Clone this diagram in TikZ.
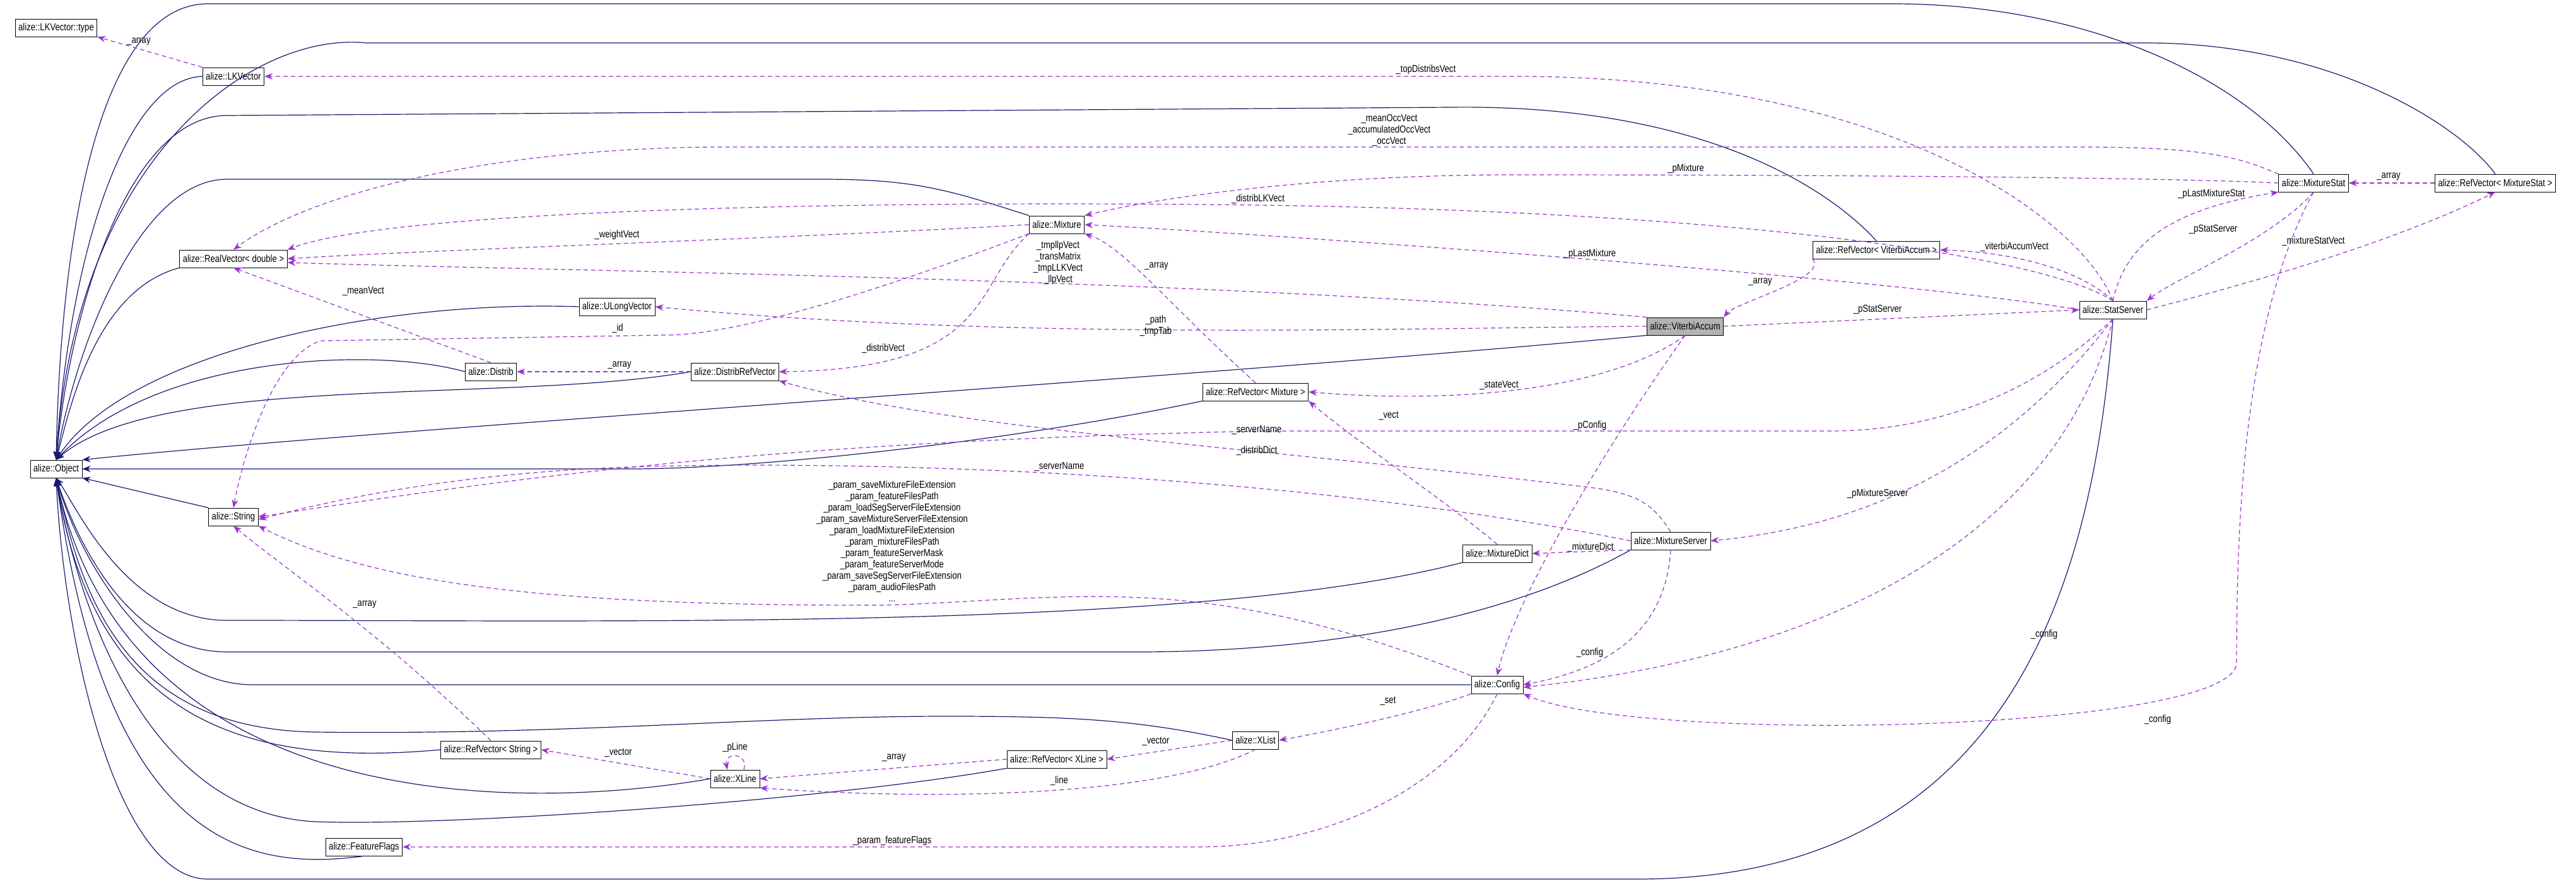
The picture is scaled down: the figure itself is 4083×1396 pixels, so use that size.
\documentclass[tikz,border=0pt]{standalone}
\usepackage{fontspec}
\setmainfont{Liberation Sans}[FakeStretch=0.82]
\usetikzlibrary{arrows.meta}
\definecolor{inhcol}{HTML}{191970}
\definecolor{usecol}{HTML}{9A32CD}
\tikzset{
  cls/.style={draw,thick,fill=white,rectangle,inner xsep=5pt,minimum height=28pt,font=\fontsize{16}{18}\selectfont},
  lbl/.style={font=\fontsize{16}{18}\selectfont,align=center,inner sep=1pt},
  inh/.style={inhcol,line width=1.2pt,-{Stealth[length=13pt,width=10pt]}},
  use/.style={usecol,line width=1.2pt,dashed,dash pattern=on 7pt off 5pt,-{Stealth[length=13pt,width=10pt]}},
}
\begin{document}
\begin{tikzpicture}[x=1pt,y=-1pt]
\useasboundingbox (0,0) rectangle (4083,1396);
% classes
\node[cls] (type) at (89,44) {alize::LKVector::type};
\node[cls] (lkv) at (370,121) {alize::LKVector};
\node[cls] (rv) at (370,410) {alize::RealVector< double >};
\node[cls] (ulv) at (978,486) {alize::ULongVector};
\node[cls] (dist) at (778,589) {alize::Distrib};
\node[cls] (drv) at (1165,589) {alize::DistribRefVector};
\node[cls] (obj) at (89,743) {alize::Object};
\node[cls] (str) at (370,819) {alize::String};
\node[cls] (rvstr) at (778,1188) {alize::RefVector< String >};
\node[cls] (xline) at (1165,1234) {alize::XLine};
\node[cls] (ff) at (577,1342) {alize::FeatureFlags};
\node[cls] (mix) at (1675,356) {alize::Mixture};
\node[cls,fill=black!30] (va) at (2671,517) {alize::ViterbiAccum};
\node[cls] (rvmix) at (1990,621) {alize::RefVector< Mixture >};
\node[cls] (mixstat) at (3667,290) {alize::MixtureStat};
\node[cls] (rvms) at (3955,290) {alize::RefVector< MixtureStat >};
\node[cls] (rvva) at (2974,396) {alize::RefVector< ViterbiAccum >};
\node[cls] (statsrv) at (3349,491) {alize::StatServer};
\node[cls] (mdict) at (2373,877) {alize::MixtureDict};
\node[cls] (msrv) at (2648,857) {alize::MixtureServer};
\node[cls] (cfg) at (2373,1085) {alize::Config};
\node[cls] (xlist) at (1990,1173) {alize::XList};
\node[cls] (rvxline) at (1675,1203) {alize::RefVector< XLine >};

% inheritance
\draw[inh] (statsrv.south) .. controls (3320,900) and (3200,1390) .. (2600,1393) -- (330,1393) .. controls (180,1393) and (100,1000) .. (obj.south);
\draw[inh] (mixstat.north) .. controls (3560,120) and (3300,6) .. (3000,6) -- (330,6) .. controls (150,6) and (95,400) .. (obj.north);
\draw[inh] (rvms.north) .. controls (3900,200) and (3700,68) .. (3400,68) -- (580,68) .. controls (400,50) and (120,250) .. (obj.north);
\draw[inh] (rvva.north) .. controls (2900,300) and (2700,165) .. (2300,170) -- (360,183) .. controls (200,183) and (110,500) .. (obj.north);
\draw[inh] (mix.north west) .. controls (1500,300) and (1450,284) .. (1300,284) -- (360,284) .. controls (220,284) and (120,550) .. (obj.north);
\draw[inh] (lkv.west) .. controls (200,125) and (110,400) .. (obj.north);
\draw[inh] (rv.south west) .. controls (150,460) and (110,650) .. (obj.north);
\draw[inh] (ulv.west) .. controls (600,475) and (200,560) .. (obj.north);
\draw[inh] (dist.west) .. controls (600,550) and (250,560) .. (obj.north);
\draw[inh] (drv.west) .. controls (800,640) and (250,590) .. (obj.north);
\draw[inh] (va.south west) .. controls (2000,590) and (600,680) .. (obj.north east);
\draw[inh] (rvmix.south west) .. controls (1600,700) and (1200,743) .. (1000,743) -- (obj.east);
\draw[inh] (str.north west) -- (obj.south east);
\draw[inh] (mdict.south west) .. controls (1900,1000) and (1000,983) .. (360,983) .. controls (200,983) and (120,800) .. (obj.south);
\draw[inh] (msrv.south west) .. controls (2300,1030) and (1900,1033) .. (1800,1033) -- (360,1033) .. controls (200,1033) and (120,850) .. (obj.south);
\draw[inh] (cfg.west) -- (400,1085) .. controls (250,1085) and (130,900) .. (obj.south);
\draw[inh] (xlist.west) .. controls (1800,1140) and (1700,1135) .. (1500,1135) .. controls (1200,1135) and (900,1165) .. (500,1160) .. controls (200,1155) and (130,950) .. (obj.south);
\draw[inh] (rvstr.west) .. controls (400,1215) and (150,1150) .. (obj.south);
\draw[inh] (xline.west) .. controls (800,1290) and (200,1280) .. (obj.south);
\draw[inh] (rvxline.south west) .. controls (1300,1270) and (700,1310) .. (500,1302) .. controls (250,1290) and (130,1000) .. (obj.south);
\draw[inh] (ff.south) .. controls (400,1380) and (170,1350) .. (obj.south);

% usage
\draw[use] (lkv.north west) -- (type.south east);
\draw[use] (statsrv.north) .. controls (3300,350) and (3000,121) .. (2400,121) -- (lkv.east);
\draw[use] (mixstat.north west) .. controls (3550,250) and (3500,233) .. (3300,233) -- (1150,233) .. controls (800,233) and (500,300) .. (rv.north);
\draw[use] (mixstat.west) .. controls (3400,280) and (2800,277) .. (2400,277) .. controls (2100,277) and (1850,310) .. (mix.north east);
\draw[use] (statsrv.north) .. controls (3230,400) and (2700,330) .. (1900,324) .. controls (1200,318) and (600,340) .. (rv.north east);
\draw[use] (mix.west) .. controls (1200,380) and (700,395) .. (rv.east);
\draw[use] (va.north west) .. controls (1900,440) and (900,430) .. ([yshift=-6pt]rv.east);
\draw[use] (statsrv.west) .. controls (3000,440) and (2000,370) .. (mix.east);
\draw[use] (rvmix.north) .. controls (1850,480) and (1780,390) .. (mix.south east);
\draw[use] (mix.south west) .. controls (1500,420) and (1200,531) .. (1054,531) -- (509,540) .. controls (440,560) and (390,700) .. (str.north);
\draw[use] (dist.north) -- (rv.south);
\draw[use] (drv.west) -- (dist.east);
\draw[use] (mix.south west) .. controls (1540,450) and (1580,585) .. (drv.east);
\draw[use] (va.west) .. controls (2200,520) and (1600,540) .. (ulv.east);
\draw[use] (rvva.south west) .. controls (2900,440) and (2750,480) .. (va.north east);
\draw[use] (statsrv.north) .. controls (3300,430) and (3200,400) .. (rvva.east);
\draw[use] (va.east) -- (statsrv.west);
\draw[use] (statsrv.north) .. controls (3370,380) and (3450,330) .. (mixstat.south west);
\draw[use] (mixstat.south) .. controls (3600,380) and (3450,440) .. (statsrv.north east);
\draw[use] (statsrv.east) .. controls (3600,440) and (3800,380) .. (rvms.south);
\draw[use] (rvms.west) -- (mixstat.east);
\draw[use] (va.south) .. controls (2550,620) and (2300,640) .. (rvmix.east);
\draw[use] (mdict.north) .. controls (2300,800) and (2150,700) .. (rvmix.south east);
\draw[use] (va.south) .. controls (2550,700) and (2400,950) .. (cfg.north);
\draw[use] (statsrv.south) .. controls (3250,600) and (3100,683) .. (2900,683) -- (2000,683) .. controls (1200,700) and (800,760) .. (str.east);
\draw[use] (msrv.north) .. controls (2620,800) and (2600,780) .. (2500,770) .. controls (2000,710) and (1500,680) .. (drv.south east);
\draw[use] (msrv.west) .. controls (2000,740) and (1300,730) .. (1000,740) .. controls (700,750) and (500,800) .. ([yshift=-4pt]str.east);
\draw[use] (cfg.north west) .. controls (1900,900) and (1700,950) .. (1400,959) .. controls (900,960) and (600,930) .. (str.south east);
\draw[use] (msrv.south west) -- (mdict.east);
\draw[use] (msrv.south) .. controls (2640,1000) and (2550,1060) .. (cfg.east);
\draw[use] (statsrv.south) .. controls (3200,700) and (3000,830) .. (msrv.east);
\draw[use] (statsrv.south) .. controls (3250,900) and (2800,1050) .. ([yshift=-4pt]cfg.east);
\draw[use] (mixstat.south) .. controls (3560,500) and (3545,800) .. (3545,1050) .. controls (3545,1160) and (2600,1180) .. (cfg.south east);
\draw[use] (cfg.south west) .. controls (2250,1130) and (2100,1160) .. (xlist.east);
\draw[use] (xlist.west) -- (rvxline.east);
\draw[use] (rvxline.west) -- (xline.east);
\draw[use] (xlist.south) .. controls (1850,1260) and (1500,1270) .. (xline.south east);
\draw[use] ([xshift=14pt]xline.north) .. controls ([xshift=22pt,yshift=28pt]xline.north) and ([xshift=-18pt,yshift=28pt]xline.north) .. ([xshift=-12pt]xline.north);
\draw[use] (xline.west) -- (rvstr.east);
\draw[use] (rvstr.north) .. controls (600,1000) and (450,900) .. (str.south);
\draw[use] (cfg.south) .. controls (2300,1250) and (2100,1342) .. (1900,1342) -- (ff.east);

% labels
\node[lbl] (la) at (220,66) {\_array};
\node[lbl] (lb) at (2260,110) {\_topDistribsVect};
\node[lbl] (lc) at (2202,207) {\_meanOccVect\\\_accumulatedOccVect\\\_occVect};
\node[lbl] (ld) at (2672,267) {\_pMixture};
\node[lbl] (le) at (1994,315) {\_distribLKVect};
\node[lbl] (lf) at (978,372) {\_weightVect};
\node[lbl] (lg) at (1677,416) {\_tmpllpVect\\\_transMatrix\\\_tmpLLKVect\\\_llpVect};
\node[lbl] (lh) at (2520,402) {\_pLastMixture};
\node[lbl] (li) at (1833,422) {\_array};
\node[lbl] (lj) at (979,520) {\_id};
\node[lbl] (lk) at (576,462) {\_meanVect};
\node[lbl] (ll) at (982,579) {\_array};
\node[lbl] (lm) at (1400,552) {\_distribVect};
\node[lbl] (ln) at (1832,516) {\_path\\\_tmpTab};
\node[lbl] (lo) at (2790,447) {\_array};
\node[lbl] (lp) at (3193,391) {\_viterbiAccumVect};
\node[lbl] (lq) at (2976,491) {\_pStatServer};
\node[lbl] (lr) at (3505,307) {\_pLastMixtureStat};
\node[lbl] (ls) at (3508,364) {\_pStatServer};
\node[lbl] (lt) at (3667,382) {\_mixtureStatVect};
\node[lbl] (lu) at (3786,280) {\_array};
\node[lbl] (lv) at (2376,611) {\_stateVect};
\node[lbl] (lw) at (2201,659) {\_vect};
\node[lbl] (lx) at (2520,674) {\_pConfig};
\node[lbl] (ly) at (1992,682) {\_serverName};
\node[lbl] (lz) at (1992,714) {\_distribDict};
\node[lbl] (laa) at (1679,740) {\_serverName};
\node[lbl] (lbb) at (1414,858) {\_param\_saveMixtureFileExtension\\\_param\_featureFilesPath\\\_param\_loadSegServerFileExtension\\\_param\_saveMixtureServerFileExtension\\\_param\_loadMixtureFileExtension\\\_param\_mixtureFilesPath\\\_param\_featureServerMask\\\_param\_featureServerMode\\\_param\_saveSegServerFileExtension\\\_param\_audioFilesPath\\...};
\node[lbl] (lcc) at (2521,867) {\_mixtureDict};
\node[lbl] (ldd) at (2520,1034) {\_config};
\node[lbl] (lee) at (2976,782) {\_pMixtureServer};
\node[lbl] (lff) at (3240,1005) {\_config};
\node[lbl] (lgg) at (3420,1140) {\_config};
\node[lbl] (lhh) at (2200,1111) {\_set};
\node[lbl] (lii) at (1832,1175) {\_vector};
\node[lbl] (ljj) at (1417,1201) {\_array};
\node[lbl] (lkk) at (1679,1237) {\_line};
\node[lbl] (lll) at (1165,1184) {\_pLine};
\node[lbl] (lmm) at (980,1193) {\_vector};
\node[lbl] (lnn) at (578,958) {\_array};
\node[lbl] (loo) at (1414,1332) {\_param\_featureFlags};
\end{tikzpicture}
\end{document}
